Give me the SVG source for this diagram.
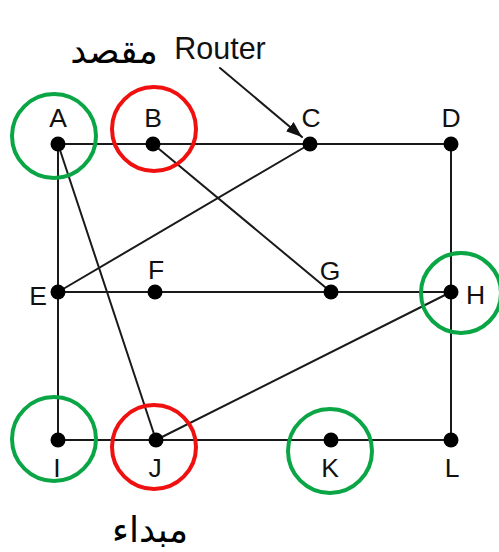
<svg xmlns="http://www.w3.org/2000/svg" width="499" height="552" viewBox="0 0 499 552">
  <style>
    .edge { stroke: #1a1a1a; stroke-width: 2; fill: none; stroke-linecap: round; }
    .dot { fill: #000; }
    .lbl { font-family: "Liberation Sans", Arial, sans-serif; font-size: 26.5px; fill: #111; text-anchor: middle; }
    .ring-g { fill: none; stroke: #0aa544; stroke-width: 4; }
    .ring-r { fill: none; stroke: #f01010; stroke-width: 4; }
    .ar { font-family: "DejaVu Sans", "Noto Sans", sans-serif; font-size: 36px; fill: #000; text-anchor: middle; }
  </style>
  <defs>
    <marker id="head" viewBox="0 0 16 12" refX="16" refY="6" markerWidth="16" markerHeight="12" markerUnits="userSpaceOnUse" orient="auto">
      <path d="M0,0 L16,6 L0,12 z" fill="#111"/>
    </marker>
  </defs>

  <!-- links between routers -->
  <g id="connectors">
    <line class="edge" x1="58" y1="144" x2="451" y2="144"/>
    <line class="edge" x1="451" y1="144" x2="451" y2="440"/>
    <line class="edge" x1="58" y1="144" x2="58" y2="440"/>
    <line class="edge" x1="58" y1="292" x2="451" y2="292"/>
    <line class="edge" x1="58" y1="440" x2="451" y2="440"/>
    <line class="edge" x1="153" y1="144" x2="331" y2="292"/>
    <line class="edge" x1="310" y1="144" x2="58" y2="292"/>
    <line class="edge" x1="58" y1="144" x2="156" y2="440"/>
    <line class="edge" x1="156" y1="440" x2="451" y2="292"/>
    <line class="edge" x1="220" y1="68" x2="302" y2="137" marker-end="url(#head)"/>
  </g>

  <g id="node-A"><circle class="ring-g" cx="54" cy="136" r="42"/><circle class="dot" cx="58" cy="144" r="7.5"/><text class="lbl" x="58" y="127">A</text></g>
  <g id="node-B"><circle class="ring-r" cx="154" cy="129" r="42"/><circle class="dot" cx="153" cy="144" r="7.5"/><text class="lbl" x="153" y="127">B</text></g>
  <g id="node-C"><circle class="dot" cx="310" cy="144" r="7.5"/><text class="lbl" x="311" y="127">C</text></g>
  <g id="node-D"><circle class="dot" cx="451" cy="144" r="7.5"/><text class="lbl" x="451" y="127">D</text></g>
  <g id="node-E"><circle class="dot" cx="58" cy="292" r="7.5"/><text class="lbl" x="38" y="305">E</text></g>
  <g id="node-F"><circle class="dot" cx="155" cy="292" r="7.5"/><text class="lbl" x="156" y="279">F</text></g>
  <g id="node-G"><circle class="dot" cx="331" cy="292" r="7.5"/><text class="lbl" x="330" y="280">G</text></g>
  <g id="node-H"><circle class="ring-g" cx="461" cy="293" r="40"/><circle class="dot" cx="451" cy="292" r="7.5"/><text class="lbl" x="466" y="304" style="text-anchor:start">H</text></g>
  <g id="node-I"><circle class="ring-g" cx="54" cy="439" r="42"/><circle class="dot" cx="58" cy="440" r="7.5"/><text class="lbl" x="57" y="477">I</text></g>
  <g id="node-J"><circle class="ring-r" cx="154" cy="447" r="42"/><circle class="dot" cx="156" cy="440" r="7.5"/><text class="lbl" x="155" y="477">J</text></g>
  <g id="node-K"><circle class="ring-g" cx="330" cy="451" r="42"/><circle class="dot" cx="331" cy="440" r="7.5"/><text class="lbl" x="330" y="477">K</text></g>
  <g id="node-L"><circle class="dot" cx="451" cy="440" r="7.5"/><text class="lbl" x="452" y="477">L</text></g>

  <g id="annotations">
    <text class="lbl" x="220" y="59" style="font-size:30.5px">Router</text>
    <text class="ar" x="114" y="63" direction="rtl">مقصد</text>
    <text class="ar" x="150" y="542" direction="rtl">مبداء</text>
  </g>
</svg>
